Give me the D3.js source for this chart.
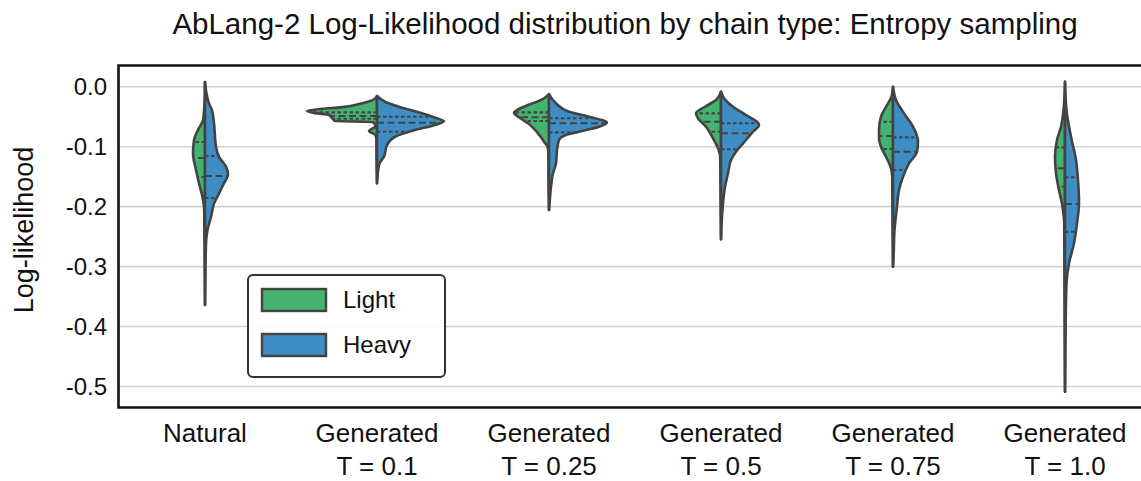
<!DOCTYPE html>
<html>
<head>
<meta charset="utf-8">
<script src="https://cdn.jsdelivr.net/npm/d3@7/dist/d3.min.js"></script>
<style>
  html, body { margin: 0; padding: 0; background: #fff; }
  svg { display: block; font-family: "Liberation Sans", Arial, Helvetica, sans-serif; }
</style>
</head>
<body>
<svg id="chart" width="1141" height="481"></svg>
<script>
// Categories along the x axis (two-line labels)
const categories = ["Natural", "Generated\nT = 0.1", "Generated\nT = 0.25",
                    "Generated\nT = 0.5", "Generated\nT = 0.75", "Generated\nT = 1.0"];
const chains = ["Light", "Heavy"];
const chainColors = ["#44b36f", "#3f8dc5"];
const yTicks = [0.0, -0.1, -0.2, -0.3, -0.4, -0.5];

// Kernel density profiles: [log-likelihood, density]
const naturalLight = [[0.008,0],[-0.027,0.5],[-0.056,2],[-0.072,7],[-0.089,11],[-0.111,12],[-0.139,9],[-0.161,6],[-0.184,2.5],[-0.206,0.8],[-0.26,0.5],[-0.364,0]];
const naturalHeavy = [[0.008,0],[-0.028,4],[-0.039,7],[-0.061,9],[-0.100,11],[-0.117,14],[-0.133,21],[-0.147,23],[-0.161,19],[-0.178,14],[-0.195,9],[-0.217,6],[-0.239,2.5],[-0.261,1],[-0.30,0.5],[-0.364,0]];
const t01Light = [[-0.0155,0],[-0.022,4],[-0.029,18],[-0.034,35],[-0.037,55],[-0.0405,70],[-0.044,62],[-0.047,48],[-0.0505,46],[-0.054,44],[-0.057,42],[-0.059,4],[-0.0655,1.5],[-0.074,8],[-0.0805,1.5],[-0.089,0.6],[-0.12,0.5],[-0.161,0]];
const t01Heavy = [[-0.0155,0],[-0.025,8],[-0.0334,22],[-0.0444,45],[-0.0544,63],[-0.0572,67],[-0.0639,58],[-0.0722,38],[-0.0834,18],[-0.0972,10],[-0.1167,7],[-0.1278,2.5],[-0.1444,0.8],[-0.161,0]];
const t025Light = [[-0.0122,0],[-0.0222,8],[-0.0305,21],[-0.040,33],[-0.0434,35],[-0.051,30],[-0.061,21],[-0.0777,11],[-0.0917,5],[-0.100,1.5],[-0.111,0.6],[-0.16,0.5],[-0.2056,0]];
const t025Heavy = [[-0.0122,0],[-0.0277,7],[-0.0417,20],[-0.050,40],[-0.0567,55],[-0.060,58],[-0.0667,50],[-0.0751,30],[-0.0806,17],[-0.0889,10],[-0.1056,8],[-0.1278,7],[-0.1444,4],[-0.1668,2],[-0.189,0.8],[-0.2056,0]];
const t05Light = [[-0.0083,0],[-0.0222,5],[-0.0334,16],[-0.0444,25],[-0.0527,23],[-0.0667,15],[-0.0861,8],[-0.1027,3],[-0.1167,0.8],[-0.18,0.5],[-0.2545,0]];
const t05Heavy = [[-0.0083,0],[-0.0193,3],[-0.0334,12],[-0.0472,25],[-0.060,37],[-0.0639,38],[-0.0751,32],[-0.0889,25],[-0.1084,15],[-0.1222,10],[-0.1444,7],[-0.1668,4],[-0.1945,2],[-0.2223,0.8],[-0.2545,0]];
const t075Light = [[0,0],[-0.0167,1.5],[-0.0334,7],[-0.050,12],[-0.0722,14],[-0.0861,14],[-0.1001,12],[-0.1167,7],[-0.1334,2.5],[-0.1501,0.8],[-0.22,0.5],[-0.3002,0]];
const t075Heavy = [[0,0],[-0.0222,3],[-0.0444,11],[-0.0667,20],[-0.0917,25],[-0.1084,24],[-0.1278,16],[-0.1501,10],[-0.1723,6],[-0.2001,4],[-0.239,1.5],[-0.2779,0.7],[-0.3002,0]];
const t10Light = [[0.0083,0],[-0.0389,1.5],[-0.0667,4],[-0.0889,8],[-0.1167,10],[-0.1444,9],[-0.1723,6],[-0.2001,2.5],[-0.2278,0.8],[-0.35,0.5],[-0.5087,0]];
const t10Heavy = [[0.0083,0],[-0.0389,1.5],[-0.0834,6],[-0.1222,11],[-0.1556,13],[-0.1945,14],[-0.2278,12],[-0.2612,9],[-0.2945,4],[-0.3279,1.5],[-0.3891,0.7],[-0.5087,0]];

// Quartiles [Q1, median, Q3]
const naturalLightQ = [-0.0922, -0.1189, -0.1506];
const naturalHeavyQ = [-0.1156, -0.1490, -0.1857];
const t01LightQ = [-0.0427, -0.0489, -0.0534];
const t01HeavyQ = [-0.0500, -0.0600, -0.0751];
const t025LightQ = [-0.0427, -0.0510, -0.0572];
const t025HeavyQ = [-0.0527, -0.0610, -0.0761];
const t05LightQ = [-0.0444, -0.0584, -0.0751];
const t05HeavyQ = [-0.0610, -0.0777, -0.1044];
const t075LightQ = [-0.0584, -0.0822, -0.1039];
const t075HeavyQ = [-0.0844, -0.1084, -0.1389];
const t10LightQ = [-0.1011, -0.1361, -0.1668];
const t10HeavyQ = [-0.1511, -0.1956, -0.2418];

const densities = [
  [naturalLight, naturalHeavy], [t01Light, t01Heavy], [t025Light, t025Heavy],
  [t05Light, t05Heavy], [t075Light, t075Heavy], [t10Light, t10Heavy]
];
const quartiles = [
  [naturalLightQ, naturalHeavyQ], [t01LightQ, t01HeavyQ], [t025LightQ, t025HeavyQ],
  [t05LightQ, t05HeavyQ], [t075LightQ, t075HeavyQ], [t10LightQ, t10HeavyQ]
];

const svg = d3.select("#chart");
const plot = { left: 118.5, right: 1151, top: 65.5, bottom: 407.5 };

const x = d3.scaleBand().domain(categories).range([plot.left + 0.5, plot.right]).padding(0);
const y = d3.scaleLinear().domain([0.0354, -0.535]).range([plot.top, plot.bottom]);
const w = d3.scaleLinear().domain([0, 86]).range([0, x.bandwidth() / 2]);

const outline = "#434343";
const textColor = "#111";

// Horizontal grid
svg.append("g").selectAll("line").data(yTicks).join("line")
  .attr("x1", plot.left).attr("x2", plot.right)
  .attr("y1", d => y(d)).attr("y2", d => y(d))
  .attr("stroke", "#d2d2d2").attr("stroke-width", 1.6);

// Split violins
const violins = svg.append("g");
categories.forEach((cat, ci) => {
  const cx = x(cat) + x.bandwidth() / 2;
  chains.forEach((chain, si) => {
    const dir = si === 0 ? -1 : 1;
    const prof = densities[ci][si];
    const area = d3.area()
      .y(d => y(d[0]))
      .x0(cx)
      .x1(d => cx + dir * w(Math.max(0, d[1])))
      .curve(d3.curveMonotoneY);
    violins.append("path")
      .attr("d", area(prof))
      .attr("fill", chainColors[si])
      .attr("stroke", outline)
      .attr("stroke-width", 2.6)
      .attr("stroke-linejoin", "round");

    // quartile lines
    const vals = prof.map(d => d[0]);
    const dens = prof.map(d => d[1]);
    quartiles[ci][si].forEach((q, qi) => {
      let k = 0;
      while (k < vals.length - 2 && vals[k + 1] > q) k++;
      const t = (q - vals[k]) / (vals[k + 1] - vals[k]);
      const dq = dens[k] + t * (dens[k + 1] - dens[k]);
      violins.append("line")
        .attr("x1", cx).attr("x2", cx + dir * w(dq))
        .attr("y1", y(q)).attr("y2", y(q))
        .attr("stroke", outline)
        .attr("stroke-width", 2.1)
        .attr("stroke-dasharray", qi === 1 ? "7,3.5" : "3.5,2.5");
    });
  });
});

// Spines
svg.append("path")
  .attr("d", `M${plot.right},${plot.top}H${plot.left}V${plot.bottom}H${plot.right}`)
  .attr("fill", "none").attr("stroke", "#111").attr("stroke-width", 2.6);

// Y tick labels
svg.append("g").selectAll("text").data(yTicks).join("text")
  .attr("x", 107).attr("y", d => y(d))
  .attr("dy", "0.35em")
  .attr("text-anchor", "end")
  .attr("font-size", 24).attr("fill", textColor)
  .text(d => d3.format(".1f")(d).replace("\u2212", "-"));

// X tick labels
const xl = svg.append("g").selectAll("text").data(categories).join("text")
  .attr("x", d => x(d) + x.bandwidth() / 2)
  .attr("y", 442)
  .attr("text-anchor", "middle")
  .attr("font-size", 26).attr("fill", textColor);
xl.each(function(d) {
  const lines = d.split("\n");
  d3.select(this).selectAll("tspan").data(lines).join("tspan")
    .attr("x", x(d) + x.bandwidth() / 2)
    .attr("dy", (l, i) => i === 0 ? 0 : 32.5)
    .text(l => l);
});

// Axis title
svg.append("text")
  .attr("transform", "translate(33,230) rotate(-90)")
  .attr("text-anchor", "middle")
  .attr("font-size", 27).attr("fill", textColor)
  .text("Log-likelihood");

// Chart title
svg.append("text")
  .attr("x", 625).attr("y", 34)
  .attr("text-anchor", "middle")
  .attr("font-size", 29.5).attr("fill", textColor)
  .text("AbLang-2 Log-Likelihood distribution by chain type: Entropy sampling");

// Legend
const lg = svg.append("g").attr("transform", "translate(248,275)");
lg.append("rect")
  .attr("x", 0).attr("y", 0).attr("width", 197).attr("height", 102)
  .attr("rx", 5).attr("fill", "#fff").attr("fill-opacity", 0.9)
  .attr("stroke", "#333").attr("stroke-width", 2);
chains.forEach((c, i) => {
  lg.append("rect")
    .attr("x", 14).attr("y", 14 + i * 45).attr("width", 64).attr("height", 22)
    .attr("fill", chainColors[i]).attr("stroke", outline).attr("stroke-width", 2.4);
  lg.append("text")
    .attr("x", 95).attr("y", 25 + i * 45).attr("dy", "0.35em")
    .attr("font-size", 24).attr("fill", textColor)
    .text(c);
});
</script>
</body>
</html>
